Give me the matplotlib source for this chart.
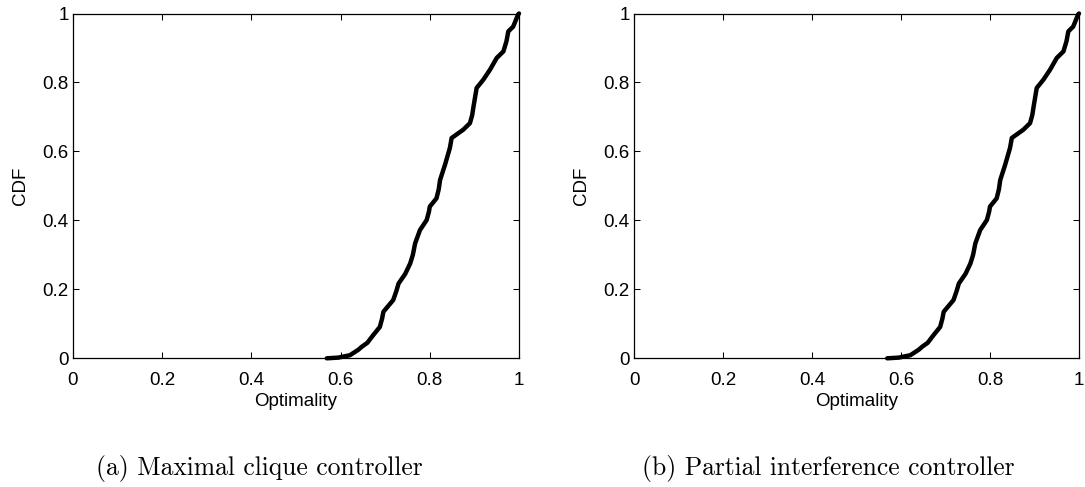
import matplotlib
matplotlib.use("Agg")
import matplotlib.pyplot as plt

optimality = [0.569, 0.595, 0.621, 0.640, 0.647, 0.660, 0.673, 0.688, 0.693, 0.696,
              0.718, 0.725, 0.730, 0.745, 0.756, 0.762, 0.767, 0.778, 0.793, 0.798,
              0.800, 0.815, 0.820, 0.823, 0.834, 0.845, 0.849, 0.875, 0.890, 0.895,
              0.898, 0.905, 0.920, 0.935, 0.950, 0.965, 0.972, 0.976, 0.987, 0.998, 1.0]
cdf = [0.0, 0.002, 0.009, 0.025, 0.033, 0.045, 0.067, 0.091, 0.115, 0.135,
       0.169, 0.195, 0.217, 0.245, 0.275, 0.300, 0.333, 0.372, 0.401, 0.425,
       0.440, 0.464, 0.490, 0.517, 0.561, 0.610, 0.639, 0.663, 0.682, 0.705,
       0.730, 0.784, 0.808, 0.837, 0.871, 0.890, 0.920, 0.948, 0.962, 0.997, 1.0]

ticks = [0, 0.2, 0.4, 0.6, 0.8, 1]
tick_labels = ["0", "0.2", "0.4", "0.6", "0.8", "1"]
captions = ["(a) Maximal clique controller", "(b) Partial interference controller"]
xlabel = "Optimality"
ylabel = "CDF"

plt.rcParams['font.family'] = ['Liberation Sans', 'DejaVu Sans']

fig = plt.figure(figsize=(10.85, 4.87), dpi=100)
W, H = 1085, 487
axes_px = [(73, 519), (634, 1079)]
cap_x = [259, 828]
top, bottom = 13.5, 358.3

for i, (x0, x1) in enumerate(axes_px):
    ax = fig.add_axes([x0 / W, 1 - bottom / H, (x1 - x0) / W, (bottom - top) / H])
    ax.plot(optimality, cdf, color='black', lw=3.2, solid_capstyle='round',
            solid_joinstyle='round', clip_on=False)
    ax.set_xlim(0, 1)
    ax.set_ylim(0, 1)
    ax.set_xticks(ticks)
    ax.set_xticklabels(tick_labels)
    ax.set_yticks(ticks)
    ax.set_yticklabels(tick_labels)
    ax.tick_params(direction='in', top=True, right=True, length=4, width=0.75,
                   labelsize=13.5)
    ax.tick_params(axis='x', pad=10)
    ax.tick_params(axis='y', pad=3)
    for s in ax.spines.values():
        s.set_linewidth(0.9)
    ax.set_xlabel(xlabel, fontsize=13.5, labelpad=3)
    ax.set_ylabel(ylabel, fontsize=13.5, labelpad=10)
    fig.text(cap_x[i] / W, 1 - 469 / H, captions[i], family='cmr10', fontsize=18.4,
             ha='center', va='center')

fig.savefig("out.png", dpi=100)
